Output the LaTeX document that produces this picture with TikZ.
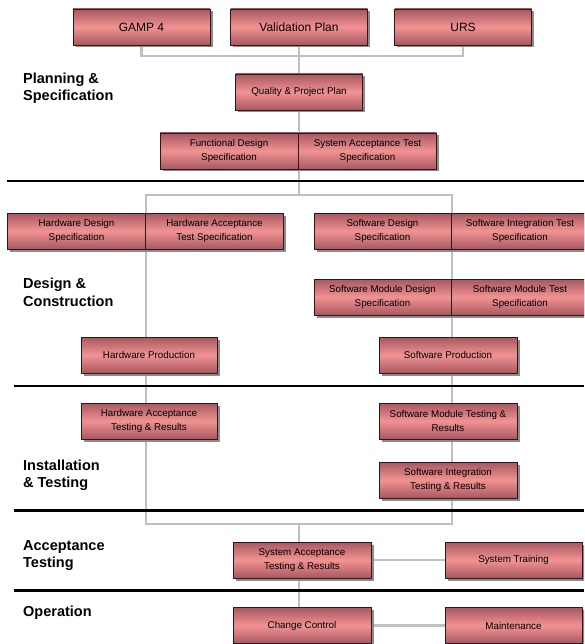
\documentclass[tikz,border=0pt]{standalone}
\usepackage{fontspec}
\setsansfont{Liberation Sans}
\usepackage{tikz}
\usetikzlibrary{shadows, backgrounds}
\definecolor{boxedge}{RGB}{168,88,96}
\definecolor{boxmid}{RGB}{241,146,146}
\definecolor{boxline}{RGB}{48,24,24}
\definecolor{linkgray}{RGB}{192,192,192}
\tikzstyle{box} = [draw=boxline, line width=0.8pt, top color=boxedge, 
bottom color=boxedge, middle color=boxmid, minimum width=137pt, 
minimum height=36pt, inner sep=0pt, align=center, text=black, 
font=\sffamily\fontsize{9.8}{14}\selectfont, 
drop shadow={shadow xshift=2.5pt, shadow yshift=-2.5pt, fill=black!45, opacity=1}]
\tikzstyle{bigbox} = [box, font=\sffamily\fontsize{12}{14}\selectfont]
\tikzstyle{link} = [draw=linkgray, line width=2.4pt]
\tikzstyle{sep} = [black, line width=2.4pt]
\tikzstyle{phase} = [anchor=west, align=left, inner sep=0pt, 
font=\sffamily\bfseries\fontsize{14.5}{17.5}\selectfont]

\begin{document}
\begin{tikzpicture}[x=1pt, y=-1pt]
\clip (0,0) rectangle (584,644);
\draw[sep] (7,181) -- (584,181);
\draw[sep] (14,386) -- (584,386);
\draw[sep] (14,510.5) -- (584,510.5);
\draw[sep] (14,590.5) -- (584,590.5);
\node[phase] (plan) at (23,88.5) {Planning \&\\Specification};
\node[phase] (design) at (23,292.5) {Design \&\\Construction};
\node[phase] (install) at (23,475.5) {Installation\\\& Testing};
\node[phase] (accept) at (23,555.5) {Acceptance\\Testing};
\node[phase] (oper) at (23,612.5) {Operation};
\node[bigbox] (gamp) at (141.5,27) {GAMP 4};
\node[bigbox] (vplan) at (299,27) {Validation Plan};
\node[bigbox] (urs) at (463,27) {URS};
\node[box, minimum width=127pt] (qpp) at (299,92) {Quality \& Project Plan};
\node[box, minimum width=138pt] (fds) at (229,151) {Functional Design\\Specification};
\node[box, minimum width=138pt] (sats) at (367.5,151) {System Acceptance Test\\Specification};
\node[box, minimum width=138pt] (hds) at (76.5,231) {Hardware Design\\Specification};
\node[box, minimum width=138pt] (hats) at (214.5,231) {Hardware Acceptance\\Test Specification};
\node[box] (sds) at (382.5,231) {Software Design\\Specification};
\node[box, minimum width=138pt] (sits) at (520,231) {Software Integration Test\\Specification};
\node[box] (smds) at (382.5,297) {Software Module Design\\Specification};
\node[box, minimum width=138pt] (smts) at (520,297) {Software Module Test\\Specification};
\node[box, minimum width=136pt] (hprod) at (149,355) {Hardware Production};
\node[box, minimum width=136pt] (hatr) at (149,421) {Hardware Acceptance\\Testing \& Results};
\node[box, minimum width=138pt] (sprod) at (448,355) {Software Production};
\node[box, minimum width=138pt] (smtr) at (448,421) {Software Module Testing \&\\Results};
\node[box, minimum width=138pt] (sitr) at (448,480) {Software Integration\\Testing \& Results};
\node[box, minimum width=138pt] (satr) at (302,560) {System Acceptance\\Testing \& Results};
\node[box] (train) at (513.5,560) {System Training};
\node[box, minimum width=138pt] (cc) at (302,625.5) {Change Control};
\node[box] (maint) at (513.5,625.5) {Maintenance};
\begin{scope}[on background layer]
\coordinate (topbus) at (299,56);
\coordinate (split) at (299,195);
\coordinate (hwtop) at (146,195);
\coordinate (swbot) at (452,524);
\coordinate (join) at (299,524);
\draw[link] (gamp.south) |- (topbus) -| (urs.south);
\draw[link] (vplan.south) -- (qpp.north);
\draw[link] (qpp.south) -- (split);
\draw[link] (hwtop) rectangle (swbot);
\draw[link] (join) -- (join |- satr.north);
\draw[link] (satr.south -| join) -- (cc.north -| join);
\draw[link] (satr) -- (train);
\draw[link] (cc) -- (maint);
\end{scope}
\end{tikzpicture}
\end{document}
